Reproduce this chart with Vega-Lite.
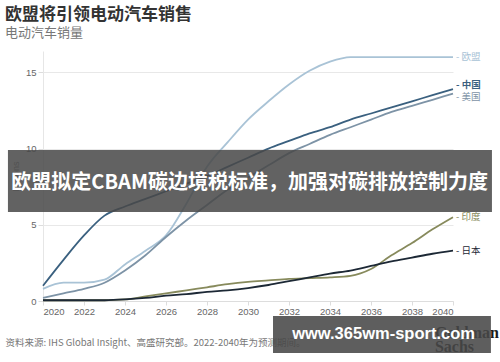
{
  "$schema": "https://vega.github.io/schema/vega-lite/v6.json",
  "width": 410,
  "height": 250,
  "autosize": {"type": "none"},
  "padding": {"left": 43, "top": 51, "right": 47, "bottom": 61},
  "background": "white",
  "config": {
    "view": {"stroke": null},
    "font": "Noto Sans CJK SC"
  },
  "title": {
    "text": "欧盟将引领电动汽车销售",
    "subtitle": "电动汽车销量",
    "anchor": "start",
    "frame": "group",
    "dx": -38,
    "offset": 10,
    "font": "Noto Sans CJK SC",
    "fontSize": 17,
    "fontWeight": "bold",
    "color": "#333333",
    "subtitleFont": "Noto Sans CJK SC",
    "subtitleFontSize": 13,
    "subtitleColor": "#777777",
    "subtitlePadding": 3
  },
  "data": {
    "values": [
      {"year": 2020, "country": "欧盟", "value": 0.8},
      {"year": 2021, "country": "欧盟", "value": 1.2},
      {"year": 2022, "country": "欧盟", "value": 1.2},
      {"year": 2023, "country": "欧盟", "value": 1.4},
      {"year": 2024, "country": "欧盟", "value": 2.4},
      {"year": 2025, "country": "欧盟", "value": 3.3},
      {"year": 2026, "country": "欧盟", "value": 4.3},
      {"year": 2027, "country": "欧盟", "value": 6.4},
      {"year": 2028, "country": "欧盟", "value": 8.8},
      {"year": 2029, "country": "欧盟", "value": 10.4},
      {"year": 2030, "country": "欧盟", "value": 11.9},
      {"year": 2031, "country": "欧盟", "value": 13.1},
      {"year": 2032, "country": "欧盟", "value": 14.2},
      {"year": 2033, "country": "欧盟", "value": 15.1},
      {"year": 2034, "country": "欧盟", "value": 15.7},
      {"year": 2035, "country": "欧盟", "value": 16.0},
      {"year": 2036, "country": "欧盟", "value": 16.0},
      {"year": 2037, "country": "欧盟", "value": 16.0},
      {"year": 2038, "country": "欧盟", "value": 16.0},
      {"year": 2039, "country": "欧盟", "value": 16.0},
      {"year": 2040, "country": "欧盟", "value": 16.0},
      {"year": 2020, "country": "中国", "value": 1.0},
      {"year": 2021, "country": "中国", "value": 2.7},
      {"year": 2022, "country": "中国", "value": 4.3},
      {"year": 2023, "country": "中国", "value": 5.6},
      {"year": 2024, "country": "中国", "value": 6.2},
      {"year": 2025, "country": "中国", "value": 6.7},
      {"year": 2026, "country": "中国", "value": 7.2},
      {"year": 2027, "country": "中国", "value": 7.7},
      {"year": 2028, "country": "中国", "value": 8.2},
      {"year": 2029, "country": "中国", "value": 8.8},
      {"year": 2030, "country": "中国", "value": 9.4},
      {"year": 2031, "country": "中国", "value": 10.0},
      {"year": 2032, "country": "中国", "value": 10.5},
      {"year": 2033, "country": "中国", "value": 11.0},
      {"year": 2034, "country": "中国", "value": 11.4},
      {"year": 2035, "country": "中国", "value": 11.9},
      {"year": 2036, "country": "中国", "value": 12.3},
      {"year": 2037, "country": "中国", "value": 12.7},
      {"year": 2038, "country": "中国", "value": 13.1},
      {"year": 2039, "country": "中国", "value": 13.5},
      {"year": 2040, "country": "中国", "value": 13.9},
      {"year": 2020, "country": "美国", "value": 0.2},
      {"year": 2021, "country": "美国", "value": 0.5},
      {"year": 2022, "country": "美国", "value": 0.8},
      {"year": 2023, "country": "美国", "value": 1.2},
      {"year": 2024, "country": "美国", "value": 2.0},
      {"year": 2025, "country": "美国", "value": 3.0},
      {"year": 2026, "country": "美国", "value": 4.2},
      {"year": 2027, "country": "美国", "value": 5.3},
      {"year": 2028, "country": "美国", "value": 6.3},
      {"year": 2029, "country": "美国", "value": 7.3},
      {"year": 2030, "country": "美国", "value": 8.1},
      {"year": 2031, "country": "美国", "value": 8.9},
      {"year": 2032, "country": "美国", "value": 9.7},
      {"year": 2033, "country": "美国", "value": 10.3},
      {"year": 2034, "country": "美国", "value": 10.9},
      {"year": 2035, "country": "美国", "value": 11.4},
      {"year": 2036, "country": "美国", "value": 11.9},
      {"year": 2037, "country": "美国", "value": 12.4},
      {"year": 2038, "country": "美国", "value": 12.8},
      {"year": 2039, "country": "美国", "value": 13.2},
      {"year": 2040, "country": "美国", "value": 13.6},
      {"year": 2020, "country": "印度", "value": 0.05},
      {"year": 2021, "country": "印度", "value": 0.05},
      {"year": 2022, "country": "印度", "value": 0.05},
      {"year": 2023, "country": "印度", "value": 0.05},
      {"year": 2024, "country": "印度", "value": 0.1},
      {"year": 2025, "country": "印度", "value": 0.3},
      {"year": 2026, "country": "印度", "value": 0.5},
      {"year": 2027, "country": "印度", "value": 0.7},
      {"year": 2028, "country": "印度", "value": 0.9},
      {"year": 2029, "country": "印度", "value": 1.1},
      {"year": 2030, "country": "印度", "value": 1.25},
      {"year": 2031, "country": "印度", "value": 1.35},
      {"year": 2032, "country": "印度", "value": 1.45},
      {"year": 2033, "country": "印度", "value": 1.5},
      {"year": 2034, "country": "印度", "value": 1.55},
      {"year": 2035, "country": "印度", "value": 1.65},
      {"year": 2036, "country": "印度", "value": 2.1},
      {"year": 2037, "country": "印度", "value": 3.0},
      {"year": 2038, "country": "印度", "value": 3.8},
      {"year": 2039, "country": "印度", "value": 4.7},
      {"year": 2040, "country": "印度", "value": 5.5},
      {"year": 2020, "country": "日本", "value": 0.05},
      {"year": 2021, "country": "日本", "value": 0.05},
      {"year": 2022, "country": "日本", "value": 0.05},
      {"year": 2023, "country": "日本", "value": 0.05},
      {"year": 2024, "country": "日本", "value": 0.1},
      {"year": 2025, "country": "日本", "value": 0.2},
      {"year": 2026, "country": "日本", "value": 0.35},
      {"year": 2027, "country": "日本", "value": 0.45},
      {"year": 2028, "country": "日本", "value": 0.6},
      {"year": 2029, "country": "日本", "value": 0.7},
      {"year": 2030, "country": "日本", "value": 0.85},
      {"year": 2031, "country": "日本", "value": 1.05},
      {"year": 2032, "country": "日本", "value": 1.3},
      {"year": 2033, "country": "日本", "value": 1.55},
      {"year": 2034, "country": "日本", "value": 1.8},
      {"year": 2035, "country": "日本", "value": 2.0},
      {"year": 2036, "country": "日本", "value": 2.3},
      {"year": 2037, "country": "日本", "value": 2.6},
      {"year": 2038, "country": "日本", "value": 2.85},
      {"year": 2039, "country": "日本", "value": 3.1},
      {"year": 2040, "country": "日本", "value": 3.3}
    ]
  },
  "layer": [
    {
      "mark": {"type": "line", "interpolate": "monotone", "strokeWidth": 1.8},
      "encoding": {
        "x": {
          "field": "year",
          "type": "quantitative",
          "scale": {"domain": [2020, 2040], "nice": false, "zero": false},
          "axis": {
            "values": [2020, 2022, 2024, 2026, 2028, 2030, 2032, 2034, 2036, 2038, 2040],
            "format": "d",
            "grid": false,
            "ticks": true,
            "tickSize": 4,
            "tickColor": "#dddddd",
            "domainColor": "#dddddd",
            "labelFont": "Liberation Sans",
            "labelFontSize": 9.5,
            "labelColor": "#666666",
            "labelPadding": 1,
            "title": "资料来源: IHS Global Insight、高盛研究部。2022-2040年为预测期间。",
            "titleFont": "Noto Sans CJK SC",
            "titleFontSize": 9.5,
            "titleFontWeight": "normal",
            "titleColor": "#777777",
            "titleAnchor": "start",
            "titleAlign": "left",
            "titleBaseline": "middle",
            "titleX": -38,
            "titleY": 41
          }
        },
        "y": {
          "field": "value",
          "type": "quantitative",
          "scale": {"domain": [0, 16.4], "nice": false},
          "axis": {
            "values": [0, 5, 10, 15],
            "grid": true,
            "gridColor": "#e8e8e8",
            "ticks": true,
            "tickSize": 5,
            "tickColor": "#dddddd",
            "domainColor": "#e6e6e6",
            "labelFont": "Liberation Sans",
            "labelFontSize": 9.5,
            "labelColor": "#666666",
            "labelPadding": 2,
            "title": "Millions",
            "titleFont": "Liberation Sans",
            "titleFontSize": 9,
            "titleFontWeight": "normal",
            "titleColor": "#888888",
            "titleX": -28,
            "titleY": 125,
            "titleAlign": "center",
            "titleBaseline": "middle"
          }
        },
        "color": {
          "field": "country",
          "type": "nominal",
          "scale": {
            "domain": ["欧盟", "中国", "美国", "印度", "日本"],
            "range": ["#a9c3d6", "#3a607f", "#7d93a6", "#878a5c", "#1c2835"]
          },
          "legend": null
        },
        "detail": {"field": "country"}
      }
    },
    {
      "transform": [
        {"filter": "datum.year == 2040 && (datum.country == '欧盟' || datum.country == '印度' || datum.country == '日本')"},
        {"calculate": "'- ' + datum.country", "as": "label"}
      ],
      "mark": {"type": "text", "align": "left", "baseline": "middle", "dx": 3, "fontSize": 9.5, "font": "Noto Sans CJK SC"},
      "encoding": {
        "x": {"field": "year", "type": "quantitative"},
        "y": {"field": "value", "type": "quantitative"},
        "text": {"field": "label"},
        "color": {"field": "country", "type": "nominal", "legend": null}
      }
    },
    {
      "transform": [
        {"filter": "datum.year == 2040 && datum.country == '中国'"},
        {"calculate": "'- ' + datum.country", "as": "label"}
      ],
      "mark": {"type": "text", "align": "left", "baseline": "middle", "dx": 3, "dy": -4, "fontSize": 9.5, "fontWeight": "bold", "font": "Noto Sans CJK SC"},
      "encoding": {
        "x": {"field": "year", "type": "quantitative"},
        "y": {"field": "value", "type": "quantitative"},
        "text": {"field": "label"},
        "color": {"field": "country", "type": "nominal", "legend": null}
      }
    },
    {
      "transform": [
        {"filter": "datum.year == 2040 && datum.country == '美国'"},
        {"calculate": "'- ' + datum.country", "as": "label"}
      ],
      "mark": {"type": "text", "align": "left", "baseline": "middle", "dx": 3, "dy": 3, "fontSize": 9.5, "font": "Noto Sans CJK SC"},
      "encoding": {
        "x": {"field": "year", "type": "quantitative"},
        "y": {"field": "value", "type": "quantitative"},
        "text": {"field": "label"},
        "color": {"field": "country", "type": "nominal", "legend": null}
      }
    },
    {
      "data": {"values": [{}]},
      "mark": {"type": "text", "text": ["Goldman", "Sachs"], "align": "left", "baseline": "top", "font": "Liberation Serif", "fontWeight": "bold", "fontSize": 16, "lineHeight": 14, "color": "#1a1a1a"},
      "encoding": {
        "x": {"datum": 2039.12},
        "y": {"datum": -1.6}
      }
    },
    {
      "data": {"values": [{}]},
      "mark": {"type": "rect", "color": "#484848", "opacity": 0.86},
      "encoding": {
        "x": {"datum": 2018.29},
        "x2": {"datum": 2041.9},
        "y": {"datum": 9.91},
        "y2": {"datum": 5.84}
      }
    },
    {
      "data": {"values": [{}]},
      "mark": {"type": "text", "text": "欧盟拟定CBAM碳边境税标准，加强对碳排放控制力度", "align": "center", "baseline": "middle", "font": "Noto Sans CJK SC", "fontWeight": "bold", "fontSize": 20, "color": "white"},
      "encoding": {
        "x": {"datum": 2030.08},
        "y": {"datum": 7.75}
      }
    },
    {
      "data": {"values": [{}]},
      "mark": {"type": "rect", "color": "#484848", "opacity": 0.88},
      "encoding": {
        "x": {"datum": 2031.22},
        "x2": {"datum": 2041.85},
        "y": {"datum": -0.98},
        "y2": {"datum": -3.41}
      }
    },
    {
      "data": {"values": [{}]},
      "mark": {"type": "text", "text": "www.365wm-sport.com", "align": "center", "baseline": "middle", "font": "Liberation Sans", "fontWeight": "bold", "fontSize": 16.5, "color": "white"},
      "encoding": {
        "x": {"datum": 2036.61},
        "y": {"datum": -2.17}
      }
    }
  ]
}
